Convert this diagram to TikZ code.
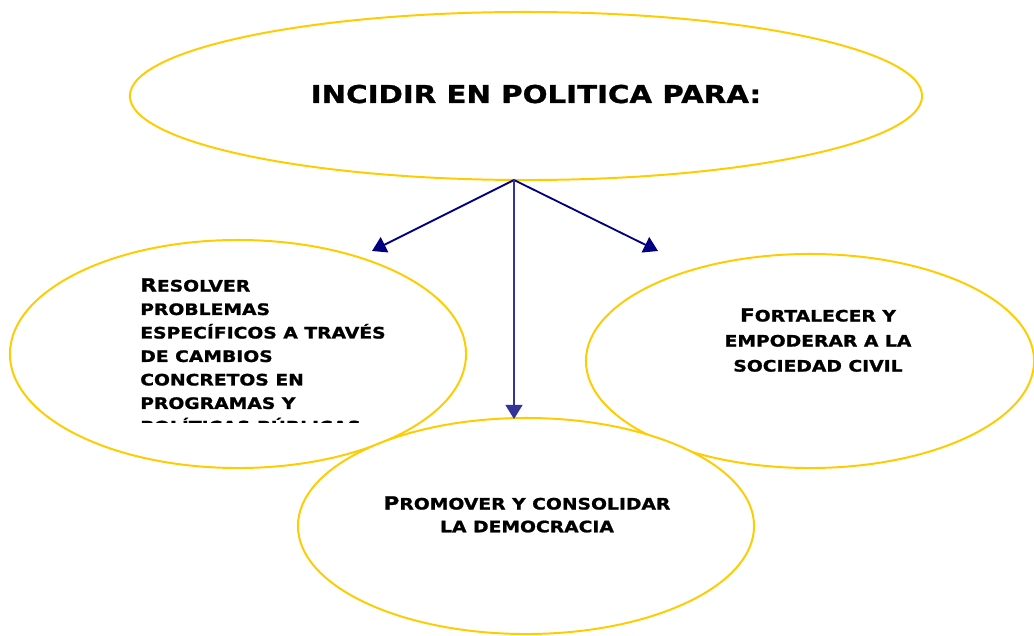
\documentclass[tikz,border=0pt]{standalone}
\usepackage{fontspec}
\newfontfamily\cgfont[FakeStretch=1.19, FakeBold=1.2]{DejaVu Sans Bold}
\usetikzlibrary{arrows.meta, shapes.geometric}
\definecolor{ovalcol}{HTML}{FFCC00}
\definecolor{navycol}{HTML}{000080}
\definecolor{stemcol}{HTML}{333399}
\newcommand{\bigini}[1]{{\fontsize{12.9}{12}\selectfont #1}}

\begin{document}
\begin{tikzpicture}[
  x=0.025cm, y=-0.025cm,
  ovalnode/.style={draw=ovalcol, line width=1.4pt, fill=white, ellipse, inner sep=0pt},
  textblock/.style={inner sep=0pt, font=\cgfont\fontsize{11.2}{16.7}\selectfont},
  arrow/.style={-{Triangle[length=10pt, width=12pt]}, line width=1.3pt, draw=navycol, fill=navycol}
]
\useasboundingbox (0,0) rectangle (1034,636);

\node[ovalnode, minimum width=19.8cm, minimum height=4.2cm] (topoval) at (526,96) {};
\node[ovalnode, minimum width=11.4cm, minimum height=5.7cm] (leftoval) at (238,354) {};
\node[ovalnode, minimum width=11.2cm, minimum height=5.35cm] (rightoval) at (810,361) {};
\node[ovalnode, minimum width=11.4cm, minimum height=5.4cm] (bottomoval) at (526,526) {};

\node[inner sep=0pt, anchor=base, font=\cgfont\fontsize{17.5}{18}\selectfont] (title) at (536,103) {INCIDIR EN POLITICA PARA:};

\begin{scope}
  \clip (130,265) rectangle (420,423);
  \node[textblock, align=left, anchor=north west] (resolver) at (140,278)
    {\bigini{R}ESOLVER\\PROBLEMAS\\ESPECÍFICOS A TRAVÉS\\DE CAMBIOS\\CONCRETOS EN\\PROGRAMAS Y\\POLÍTICAS PÚBLICAS};
\end{scope}
\node[textblock, align=center, anchor=north, font=\cgfont\fontsize{11.2}{17.8}\selectfont] (fortalecer) at (818,308)
  {\bigini{F}ORTALECER Y\\EMPODERAR A LA\\SOCIEDAD CIVIL};
\node[textblock, align=center, anchor=north, font=\cgfont\fontsize{11.2}{16.2}\selectfont] (promover) at (527,496)
  {\bigini{P}ROMOVER Y CONSOLIDAR\\LA DEMOCRACIA};

\coordinate (hub) at (514,180);
\coordinate (lefttip) at (372,251);
\coordinate (righttip) at (658,251);
\coordinate (downtip) at (514,419);

\draw[arrow] (hub) -- (lefttip);
\draw[arrow] (hub) -- (righttip);
\draw[arrow, draw=stemcol, fill=stemcol] (hub) -- (downtip);
\end{tikzpicture}
\end{document}
